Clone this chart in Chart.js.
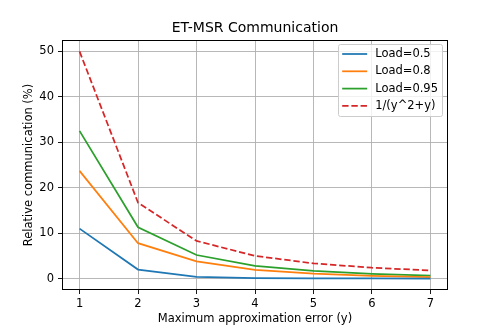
<!DOCTYPE html>
<html>
<head>
<meta charset="utf-8">
<script src="https://cdn.jsdelivr.net/npm/chart.js@4/dist/chart.umd.min.js"></script>
<style>
  html, body { margin: 0; padding: 0; background: #fff; }
  #wrap { width: 498px; height: 332px; }
</style>
</head>
<body>
<div id="wrap"><canvas id="chart" width="498" height="332"></canvas></div>
<script>
// data
const errorSteps = [1, 2, 3, 4, 5, 6, 7];
const load05 = [11.0, 2.0, 0.4, 0.13, 0.07, 0.05, 0.03];
const load08 = [23.7, 7.8, 3.8, 1.95, 1.1, 0.6, 0.35];
const load095 = [32.5, 11.3, 5.2, 2.8, 1.7, 1.05, 0.65];
const bound = [50.0, 16.7, 8.3, 5.0, 3.35, 2.4, 1.8];
const xTicks = [1, 2, 3, 4, 5, 6, 7];
const yTicks = [0, 10, 20, 30, 40, 50];

const FONT = "'DejaVu Sans', sans-serif";
Chart.defaults.color = "#000";
Chart.defaults.font.family = FONT;

const pts = (arr) => arr.map((v, i) => ({ x: errorSteps[i], y: v }));

// frame on all four sides + matplotlib-style legend box
const framePlugin = {
  id: "frame",
  afterDraw(chart) {
    const { ctx, chartArea: a } = chart;
    const l = Math.round(a.left), t = Math.round(a.top);
    const r = Math.round(a.right), b = Math.round(a.bottom);
    ctx.save();
    ctx.strokeStyle = "#000";
    ctx.lineWidth = 1;
    ctx.strokeRect(l + 0.5, t + 0.5, r - l - 1, b - t - 1);

    // legend
    ctx.font = "11.5px " + FONT;
    const sets = chart.data.datasets;
    const textW = Math.max(...sets.map((d) => ctx.measureText(d.label).width));
    const rowH = 17.3;
    const w = 4 + 25 + 8 + textW + 4;
    const h = sets.length * rowH + 3;
    const x0 = r - 6 - w;
    const y0 = t + 4;
    ctx.beginPath();
    ctx.roundRect(Math.round(x0) + 0.5, y0 + 0.5, Math.round(w), Math.round(h), 2);
    ctx.fillStyle = "rgba(255,255,255,0.8)";
    ctx.fill();
    ctx.strokeStyle = "#cccccc";
    ctx.lineWidth = 1;
    ctx.stroke();
    sets.forEach((d, i) => {
      const cy = y0 + 10 + i * rowH;
      ctx.beginPath();
      ctx.strokeStyle = d.borderColor;
      ctx.lineWidth = d.borderWidth;
      ctx.setLineDash(d.borderDash || []);
      ctx.moveTo(x0 + 4, cy);
      ctx.lineTo(x0 + 29, cy);
      ctx.stroke();
      ctx.setLineDash([]);
      ctx.fillStyle = "#000";
      ctx.textBaseline = "middle";
      ctx.textAlign = "left";
      ctx.fillText(d.label, x0 + 37, cy);
    });
    ctx.restore();
  },
};

const chart = new Chart(document.getElementById("chart"), {
  type: "line",
  data: {
    datasets: [
      { label: "Load=0.5", data: pts(load05), borderColor: "#1f77b4" },
      { label: "Load=0.8", data: pts(load08), borderColor: "#ff7f0e" },
      { label: "Load=0.95", data: pts(load095), borderColor: "#2ca02c" },
      { label: "1/(y^2+y)", data: pts(bound), borderColor: "#d62728", borderDash: [6.4, 2.8] },
    ].map((d) => ({ ...d, borderWidth: 1.75, pointRadius: 0, tension: 0, fill: false })),
  },
  options: {
    responsive: false,
    animation: false,
    layout: { padding: { left: 12, right: 0, top: 0, bottom: 0 } },
    plugins: {
      legend: { display: false },
      tooltip: { enabled: false },
      title: {
        display: true,
        text: "ET-MSR Communication",
        color: "#000",
        font: { size: 14, weight: "normal", family: FONT },
        padding: { top: 19.6, bottom: 3.6 },
      },
    },
    scales: {
      x: {
        type: "linear",
        min: 0.7,
        max: 7.3,
        afterBuildTicks: (s) => { s.ticks = xTicks.map((v) => ({ value: v })); },
        afterFit: (s) => { s.height = 42; },
        ticks: { font: { size: 11.5 }, padding: 3, maxRotation: 0 },
        grid: { color: "#b0b0b0", lineWidth: 0.9, tickLength: 4, tickColor: "#000" },
        border: { display: false },
        title: {
          display: true,
          text: "Maximum approximation error (y)",
          font: { size: 11.5 },
          padding: { top: 0, bottom: 6.1 },
        },
      },
      y: {
        type: "linear",
        min: -2.5,
        max: 52.5,
        afterBuildTicks: (s) => { s.ticks = yTicks.map((v) => ({ value: v })); },
        afterFit: (s) => { s.width = 50; },
        ticks: { font: { size: 11.5 }, padding: 4 },
        grid: { color: "#b0b0b0", lineWidth: 0.9, tickLength: 4, tickColor: "#000" },
        border: { display: false },
        title: {
          display: true,
          text: "Relative communication (%)",
          font: { size: 11.5 },
          padding: { top: 10.1, bottom: 0 },
        },
      },
      // empty right-hand margin, keeps the title centred over the plot
      yRight: {
        type: "linear",
        position: "right",
        display: true,
        afterFit: (s) => { s.width = 50; },
        ticks: { display: false },
        grid: { display: false },
        border: { display: false },
      },
    },
  },
  plugins: [framePlugin],
});
</script>
</body>
</html>
